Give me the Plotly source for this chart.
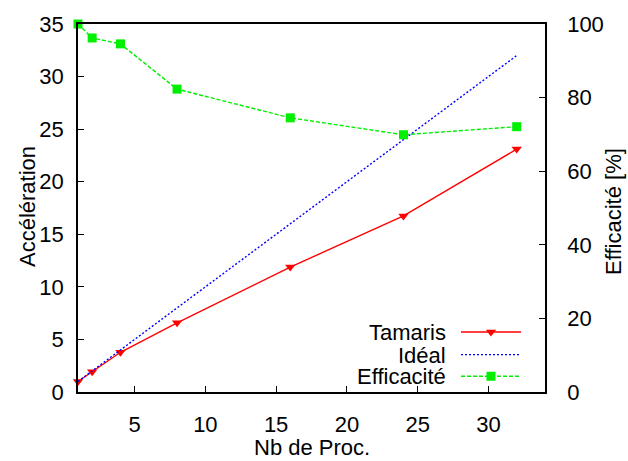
import plotly.graph_objects as go

procs = [1, 2, 4, 8, 16, 24, 32]
tamaris = [1.0, 1.92, 3.78, 6.58, 11.88, 16.75, 23.1]
ideal_x = [1, 32]
ideal_y = [1, 32]
efficacite = [100, 96.2, 94.6, 82.3, 74.5, 69.9, 72.1]

legend_names = ["Tamaris", "Idéal", "Efficacité"]

FONT = "Liberation Sans, Arial, Helvetica, sans-serif"
FS = 22
GREEN = "#00f000"

L, R, T, B = 78, 545, 18, 392
W, H = 628, 461

fig = go.Figure()
fig.add_trace(go.Scatter(x=procs, y=tamaris, mode="lines+markers", name="Tamaris",
                         line=dict(color="#ff0000", width=1.4),
                         marker=dict(symbol="triangle-down", size=9, color="#ff0000"),
                         cliponaxis=False))
fig.add_trace(go.Scatter(x=ideal_x, y=ideal_y, mode="lines", name="Idéal",
                         line=dict(color="#0000ff", width=1.4, dash="2px,2px")))
fig.add_trace(go.Scatter(x=procs, y=efficacite, mode="lines+markers", name="Efficacité",
                         yaxis="y2",
                         line=dict(color=GREEN, width=1.4, dash="4px,2px"),
                         marker=dict(symbol="square", size=9, color=GREEN),
                         cliponaxis=False))

# legend samples (gnuplot style: text left, sample right)
def px(xp):
    return (xp - L) / (R - L)

def py(yp):
    return (B - yp) / (B - T)

rows_y = [331, 354, 376]
styles = [
    dict(line=dict(color="#ff0000", width=1.4), marker=dict(symbol="triangle-down", size=9, color="#ff0000")),
    dict(line=dict(color="#0000ff", width=1.4, dash="2px,2px"), marker=None),
    dict(line=dict(color=GREEN, width=1.4, dash="4px,2px"), marker=dict(symbol="square", size=9, color=GREEN)),
]
annotations = []
for name, yy, st in zip(legend_names, rows_y, styles):
    fig.add_trace(go.Scatter(x=[px(461), px(521)], y=[py(yy), py(yy)], mode="lines",
                             line=st["line"], xaxis="x3", yaxis="y3", showlegend=False,
                             hoverinfo="skip", cliponaxis=False))
    if st.get("marker"):
        fig.add_trace(go.Scatter(x=[px(491)], y=[py(yy)], mode="markers",
                                 marker=st["marker"], xaxis="x3", yaxis="y3",
                                 showlegend=False, hoverinfo="skip", cliponaxis=False))
    annotations.append(dict(x=px(447), y=py(yy), xref="paper", yref="paper",
                            text=name, showarrow=False, xanchor="right", yanchor="middle",
                            height=20, borderpad=0,
                            font=dict(family=FONT, size=FS, color="black")))

# axis titles
annotations.append(dict(x=(312 - L) / (R - L), y=py(448), xref="paper", yref="paper",
                        text="Nb de Proc.", showarrow=False, xanchor="center", yanchor="middle",
                        font=dict(family=FONT, size=FS, color="black")))
annotations.append(dict(x=px(27), y=py(204), xref="paper", yref="paper",
                        text="Accélération", textangle=-90, showarrow=False,
                        xanchor="center", yanchor="middle",
                        font=dict(family=FONT, size=FS, color="black")))
annotations.append(dict(x=px(614), y=py(209), xref="paper", yref="paper",
                        text="Efficacité [%]", textangle=-90, showarrow=False,
                        xanchor="center", yanchor="middle",
                        font=dict(family=FONT, size=FS, color="black")))

axis_common = dict(showgrid=False, zeroline=False, showline=True, linecolor="black",
                   linewidth=1.5, ticks="inside", ticklen=6, tickcolor="black", tickwidth=1.2,
                   tickfont=dict(family=FONT, size=FS, color="black"))

fig.update_layout(
    width=W, height=H,
    margin=dict(l=L, r=W - R, t=T, b=H - B, pad=0),
    paper_bgcolor="white", plot_bgcolor="white",
    showlegend=False,
    xaxis=dict(range=[1, 34], tickvals=[5, 10, 15, 20, 25, 30], mirror=True,
               ticklabelstandoff=12, **axis_common),
    yaxis=dict(range=[0, 35], tickvals=[0, 5, 10, 15, 20, 25, 30, 35], mirror=True,
               ticklabelstandoff=8, **axis_common),
    yaxis2=dict(range=[0, 100], tickvals=[0, 20, 40, 60, 80, 100], overlaying="y",
                side="right", ticklabelstandoff=16, **axis_common),
    xaxis3=dict(range=[0, 1], overlaying="x", visible=False),
    yaxis3=dict(range=[0, 1], overlaying="y", visible=False),
    annotations=annotations,
)

fig.write_html("out.html")
